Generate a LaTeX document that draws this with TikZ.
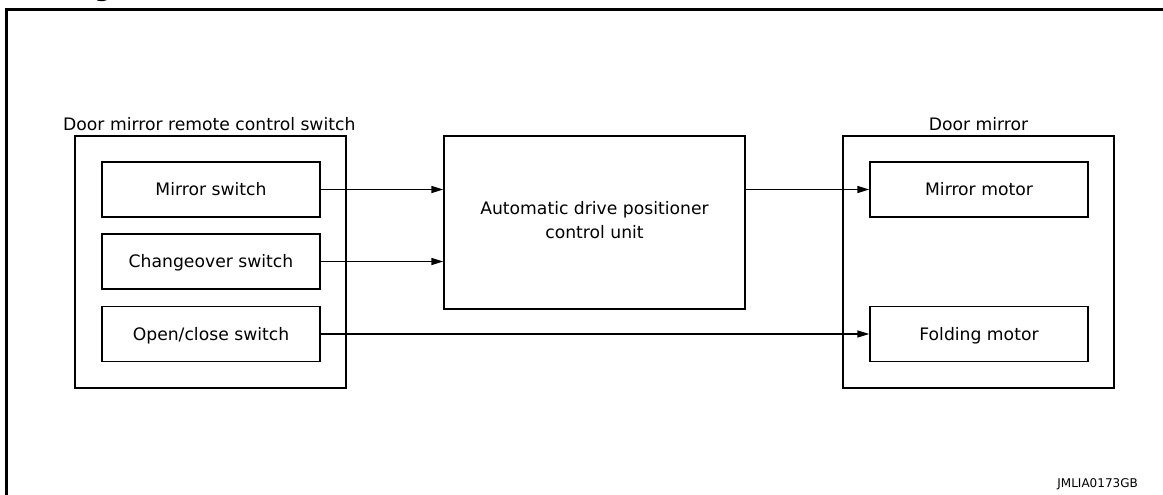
\documentclass[tikz,border=0pt]{standalone}
\usepackage{fontspec}
\setmainfont{DejaVu Sans}
\usetikzlibrary{arrows.meta}
\begin{document}
\begin{tikzpicture}[x=1pt,y=-1pt,
  box/.style={draw, line width=1.4pt, inner sep=0pt},
  inbox/.style={box, minimum width=218pt, minimum height=55pt, text height=12.5pt, text depth=0pt, font=\fontsize{17.2}{20}\selectfont},
  outbox/.style={box, minimum width=271pt, minimum height=252pt},
  conn/.style={line width=1.4pt, -{Triangle[length=12pt,width=7pt]}},
  lbl/.style={inner sep=0pt, font=\fontsize{17.2}{20}\selectfont}]
\useasboundingbox (0,0) rectangle (1163,495);
% frame
\coordinate (fbl) at (6.5,495);
\coordinate (ftr) at (1163,9.5);
\draw[line width=3pt] (fbl) |- (ftr);
\node[anchor=base, inner sep=0pt, font=\bfseries\fontsize{24}{24}\selectfont] (hd) at (103,-3) {g};
% left group
\node[outbox] (ls) at (210.5,262) {};
\node[lbl, anchor=base west] (lst) at (63,131) {Door mirror remote control switch};
\node[inbox] (ms) at (211,189.5) {Mirror switch};
\node[inbox] (co) at (211,261.5) {Changeover switch};
\node[inbox] (oc) at (211,334) {Open/close switch};
% control unit
\node[box, minimum width=301pt, minimum height=173pt, align=center, font=\fontsize{17.2}{24}\selectfont] (cu) at (594.5,222.5) {};
\node[lbl, align=center, font=\fontsize{17.2}{24}\selectfont] (cut) at (594.5,220) {Automatic drive positioner\\control unit};
% right group
\node[outbox] (dm) at (978.5,262) {};
\node[lbl, anchor=base] (dmt) at (978.5,131) {Door mirror};
\node[inbox] (mm) at (979,189.5) {Mirror motor};
\node[inbox] (fm) at (979,334) {Folding motor};
% connectors
\draw[conn] (ms.east) -- (ms.east -| cu.west);
\draw[conn] (co.east) -- (co.east -| cu.west);
\draw[conn] (mm.west -| cu.east) -- (mm.west);
\draw[conn] (oc.east) -- (fm.west);
% code
\node[anchor=base east, inner sep=0pt, font=\fontsize{12}{14}\selectfont] (code) at (1138,487) {JMLIA0173GB};
\end{tikzpicture}
\end{document}
